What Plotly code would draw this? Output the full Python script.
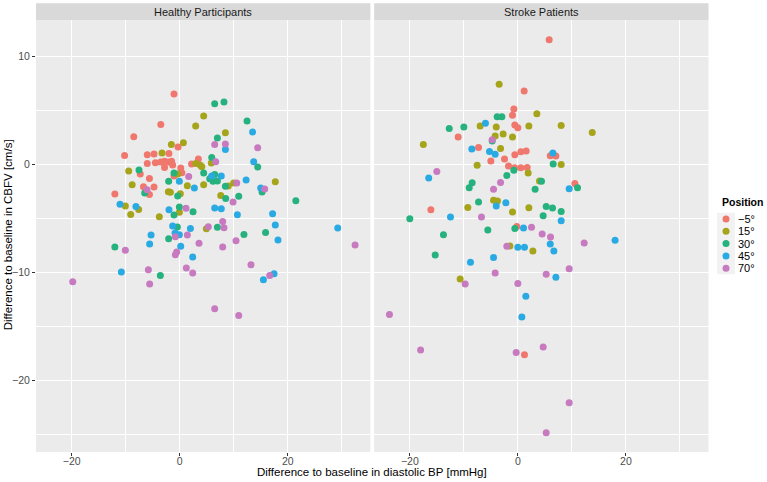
import plotly.graph_objects as go

positions = ["\u22125\u00b0", "15\u00b0", "30\u00b0", "45\u00b0", "70\u00b0"]
colors = ["#F0776D", "#A6A41A", "#26B27E", "#2AAAE2", "#C77ABF"]
panels = ["Healthy Participants", "Stroke Patients"]

# Healthy participants
h_m5_x = [-1.05, -3.5, -8.5, -10.2, -6.0, -4.75, -2.0, -0.3, -6.0, -4.5, -3.5, -2.8, -2.1, -1.5, -1.3, -2.8, 0.2, 0.4, -1.05, 3.46, 2.2, -7.3, -5.6, -6.7, -4.75, -5.6, -12.0]
h_m5_y = [6.54, 3.73, 2.59, 0.86, 0.93, 0.99, 1.05, 1.64, 0.12, 0.19, 0.25, 0.31, 0.25, 0.31, -0.03, -0.25, -0.31, -0.74, -1.05, 0.52, 0.06, -0.86, -1.27, -2.04, -2.07, -2.75, -2.72]
h_15_x = [4.44, 2.96, 8.46, 0.68, -1.54, -3.27, -9.44, -8.8, -10.06, -9.07, -7.6, -3.77, -2.1, -1.73, 0.12, -0.06, 1.42, 3.0, 3.83, 4.1, 4.44, 5.86, 7.6, 9.0, 10.0, 17.7, 4.94, -0.37]
h_15_y = [4.5, 3.58, 2.96, 2.04, 1.88, 1.08, -0.59, -1.85, -3.83, -4.6, -4.14, -4.81, -2.5, -2.56, -2.69, -4.41, -1.94, 0.12, -0.06, -0.19, -1.85, 0.15, -2.84, -1.98, -1.7, -1.57, -5.93, -0.86]
h_30_x = [6.48, 8.2, 12.47, 6.98, 5.93, 14.44, -7.53, -6.48, -1.05, -2.04, -0.37, -0.06, 2.47, -1.05, -0.43, -2.04, 4.44, 5.56, 6.17, 6.48, 6.98, 8.46, 8.52, 10.93, 6.98, 11.9, 15.9, 15.25, 21.5, -12.0, -3.58]
h_30_y = [5.65, 5.8, 4.04, 2.47, 0.68, -0.22, -0.49, -2.62, -0.77, -1.54, -2.9, -3.92, -4.35, -4.66, -5.77, -6.85, -0.77, -1.3, -1.54, -0.9, -1.51, -2.0, -3.12, -2.93, -5.8, -6.45, -6.27, -2.53, -3.33, -7.62, -10.25]
h_45_x = [13.5, 13.7, 8.46, 7.7, 5.93, 12.3, 15.0, -0.06, 2.72, -11.05, -8.1, -1.98, 6.48, 7.7, 10.68, 17.2, 17.7, 18.2, 29.26, -1.3, -0.86, -0.06, 1.98, -5.3, -5.56, 0.19, 2.41, -10.8, 17.47, 15.5]
h_45_y = [3.02, 0.28, 1.42, -1.05, -1.05, -1.42, -2.16, -1.54, -2.16, -3.67, -3.86, -4.17, -4.01, -4.07, -4.63, -4.54, -5.59, -6.98, -5.86, -5.68, -6.33, -6.48, -5.9, -6.51, -7.35, -7.56, -8.55, -9.94, -10.1, -10.65]
h_70_x = [6.48, 8.46, 14.44, 6.67, 1.67, -6.05, 10.56, 15.74, 1.17, 9.88, 7.96, 8.2, 5.3, 1.42, 3.58, -0.8, 10.43, 7.96, -10.06, -0.56, -0.8, 32.47, -5.8, 1.23, 2.41, 13.2, 16.67, -5.56, -19.8, 6.48, 10.93]
h_70_y = [1.88, 1.91, 1.57, 0.28, -1.08, -2.31, -1.7, -2.25, -4.04, -3.46, -5.25, -5.83, -5.74, -6.51, -7.28, -6.67, -7.04, -7.62, -7.93, -8.09, -8.33, -7.44, -9.72, -9.57, -10.03, -9.26, -10.25, -11.05, -10.83, -13.33, -13.95]

# Stroke patients
s_m5_x = [5.8, 1.17, -0.74, -0.99, -0.56, 0.0, -11.05, -7.28, -0.56, 0.56, 1.54, 6.0, 7.04, -2.47, -5.0, -1.73, -0.62, 0.56, 1.73, 10.56, -16.1, -0.19, 1.23]
s_m5_y = [11.57, 6.82, 5.15, 4.57, 3.67, 3.43, 2.56, 1.6, 0.93, 1.2, 1.27, 0.83, 0.8, 0.52, 0.34, -0.12, -0.28, -0.28, -0.25, -1.73, -4.17, -5.71, -17.6]
s_15_x = [-3.46, 3.52, -6.98, -4.0, 2.04, 8.02, 13.77, -2.72, -4.2, -0.99, -17.5, -3.2, -7.53, 8.02, 1.91, 4.0, -4.5, -3.77, -9.26, 2.04, -0.99, -1.48, 2.78, -10.68]
s_15_y = [7.44, 4.72, 3.58, 3.49, 3.58, 3.64, 2.99, 2.84, 2.65, 2.56, 1.88, 1.51, -0.06, 0.03, -0.77, -1.51, -3.3, -3.36, -3.95, -3.98, -4.38, -7.53, -7.99, -10.59]
s_30_x = [-3.83, -2.96, -12.7, -10.0, -4.75, 6.54, -0.74, -2.04, -8.46, -9.0, 4.38, 11.05, 3.2, -7.28, 5.25, 6.42, 8.02, 4.69, -20.0, -5.56, -0.56, -13.77, -15.3]
s_30_y = [4.44, 4.44, 3.36, 3.49, 2.19, 0.06, -0.52, -0.99, -1.67, -2.13, -1.54, -2.13, -2.28, -3.46, -3.86, -4.01, -4.32, -4.72, -5.0, -6.05, -5.9, -6.48, -8.36]
s_45_x = [-6.0, -8.52, -5.25, -4.2, 6.48, -16.5, 9.5, -2.22, -4.0, -12.47, 8.02, 1.05, 18.0, 6.0, 0.0, 1.23, 6.67, -4.5, -8.77, 7.04, 1.48, 0.74]
s_45_y = [3.83, 1.45, 1.23, 0.96, 1.08, -1.23, -2.22, -3.52, -3.83, -4.85, -5.19, -5.86, -7.0, -7.35, -7.65, -7.65, -7.99, -8.58, -9.04, -10.43, -12.19, -14.1]
s_70_x = [-4.75, -15.0, -3.2, -4.5, -6.73, 2.53, 4.5, 6.05, 12.28, -2.04, 9.5, -4.2, 5.25, -9.75, 0.0, -23.77, -18.0, -0.31, 4.69, 9.5, 5.25]
s_70_y = [2.31, -0.62, -1.64, -2.28, -4.85, -5.8, -6.42, -6.7, -7.25, -7.56, -9.63, -10.03, -10.15, -11.05, -10.99, -13.86, -17.16, -17.38, -16.88, -22.04, -24.81]

x_ticks = [-20, 0, 20]
y_ticks = [-20, -10, 0, 10]

healthy = [(h_m5_x, h_m5_y), (h_15_x, h_15_y), (h_30_x, h_30_y), (h_45_x, h_45_y), (h_70_x, h_70_y)]
stroke = [(s_m5_x, s_m5_y), (s_15_x, s_15_y), (s_30_x, s_30_y), (s_45_x, s_45_y), (s_70_x, s_70_y)]

FONT = "Liberation Sans, Arial, Helvetica, sans-serif"
fig = go.Figure()
for i, (name, col) in enumerate(zip(positions, colors)):
    fig.add_trace(go.Scatter(x=healthy[i][0], y=healthy[i][1], mode="markers", name=name,
                             marker=dict(color=col, size=7), showlegend=False,
                             xaxis="x", yaxis="y"))
    fig.add_trace(go.Scatter(x=stroke[i][0], y=stroke[i][1], mode="markers", name=name,
                             marker=dict(color=col, size=7), showlegend=False,
                             xaxis="x2", yaxis="y2"))

# legend keys drawn on a hidden helper axis (one key per position, stacked by index)
key_idx = list(range(len(positions)))
fig.add_trace(go.Scatter(x=[10] * len(positions), y=key_idx, mode="markers",
                         marker=dict(color=colors, size=7), showlegend=False, hoverinfo="skip",
                         xaxis="x3", yaxis="y3", cliponaxis=False))

W, H = 767, 482
ml, mr, mt, mb = 35.7, 0, 20, 30
pw = W - ml - mr
ph = H - mt - mb

def px_x(p):
    return min(1.0, max(0.0, (p - ml) / pw))

def px_y(p):
    return min(1.0, max(0.0, (H - mb - p) / ph))

d1 = [px_x(35.7), px_x(370.2)]
d2 = [px_x(374.0), px_x(708.5)]

xr = [-26.6, 35.3]
yr = [-26.6, 13.4]

def xax(domain, anchor):
    return dict(domain=domain, anchor=anchor, range=xr, tickvals=x_ticks,
                ticktext=[str(v).replace("-", "\u2212") for v in x_ticks],
                showgrid=True, gridcolor="white", gridwidth=1.1, zeroline=False,
                ticks="outside", ticklen=3, tickcolor="#333333", tickwidth=1,
                ticklabelstandoff=-4,
                tickfont=dict(family=FONT, size=10.5, color="#4D4D4D"),
                minor=dict(tickvals=[-10, 10, 30], showgrid=True, gridcolor="white", gridwidth=0.55, ticks=""),
                showline=False)

def yax(anchor, show):
    return dict(domain=[0, 1], anchor=anchor, range=yr, tickvals=y_ticks,
                ticktext=[str(v).replace("-", "\u2212") for v in y_ticks],
                showticklabels=show,
                showgrid=True, gridcolor="white", gridwidth=1.1, zeroline=False,
                ticks="outside" if show else "", ticklen=3, tickcolor="#333333", tickwidth=1,
                tickfont=dict(family=FONT, size=10.5, color="#4D4D4D"),
                minor=dict(tickvals=[-25, -15, -5, 5], showgrid=True, gridcolor="white", gridwidth=0.55, ticks=""),
                showline=False)

# legend helper axis geometry (pixels -> index units)
leg_x0, leg_x1 = 716, 767
leg_top, leg_bot = 196, 278
key0_y, key_step = 219, 12.3
leg_yr = [(leg_bot - key0_y) / key_step, (leg_top - key0_y) / key_step]

strip_h = 16.7 / ph
shapes = []
annotations = []
for dom, label in zip([d1, d2], panels):
    shapes.append(dict(type="rect", xref="paper", yref="paper", x0=dom[0], x1=dom[1],
                       y0=0, y1=1, fillcolor="#EBEBEB", line=dict(width=0), layer="below"))
    shapes.append(dict(type="rect", xref="paper", yref="paper", x0=dom[0], x1=dom[1],
                       y0=1, y1=1 + strip_h, fillcolor="#D9D9D9", line=dict(width=0), layer="below"))
    annotations.append(dict(text=label, xref="paper", yref="paper", x=(dom[0] + dom[1]) / 2,
                            y=1 + strip_h / 2, showarrow=False, xanchor="center", yanchor="middle",
                            font=dict(family=FONT, size=11, color="#1A1A1A")))

# legend key background, title and labels
shapes.append(dict(type="rect", xref="x3", yref="y3", x0=1, x1=19, y0=-0.5, y1=4.5,
                   fillcolor="#F2F2F2", line=dict(width=0), layer="below"))
annotations.append(dict(text="<b>Position</b>", xref="x3", yref="y3", x=3.5, y=-1.35,
                        showarrow=False, xanchor="left", yanchor="middle",
                        font=dict(family=FONT, size=10.5, color="black")))
for i, lab in zip(key_idx, positions):
    annotations.append(dict(text=lab, xref="x3", yref="y3", x=19.5, y=i,
                            showarrow=False, xanchor="left", yanchor="middle",
                            font=dict(family=FONT, size=11, color="black")))

annotations.append(dict(text="Difference to baseline in diastolic BP [mmHg]", xref="paper", yref="paper",
                        x=(372 - ml) / pw, y=(H - mb - 472) / ph, showarrow=False,
                        xanchor="center", yanchor="middle",
                        font=dict(family=FONT, size=11.5, color="black")))
annotations.append(dict(text="Difference to baseline in CBFV [cm/s]", xref="paper", yref="paper",
                        x=(8 - ml) / pw, y=(H - mb - 235) / ph, showarrow=False, textangle=-90,
                        xanchor="center", yanchor="middle",
                        font=dict(family=FONT, size=11.5, color="black")))

fig.update_layout(
    width=W, height=H,
    margin=dict(l=ml, r=mr, t=mt, b=mb),
    paper_bgcolor="white", plot_bgcolor="rgba(0,0,0,0)",
    xaxis=xax(d1, "y"), xaxis2=xax(d2, "y2"),
    yaxis=yax("x", True), yaxis2=yax("x2", False),
    xaxis3=dict(domain=[px_x(leg_x0), 1], anchor="y3", range=[0, leg_x1 - leg_x0],
                visible=False, fixedrange=True),
    yaxis3=dict(domain=[px_y(leg_bot), px_y(leg_top)], anchor="x3", range=leg_yr,
                visible=False, fixedrange=True),
    shapes=shapes, annotations=annotations,
    showlegend=False,
    font=dict(family=FONT),
)

fig.write_html("out.html")
